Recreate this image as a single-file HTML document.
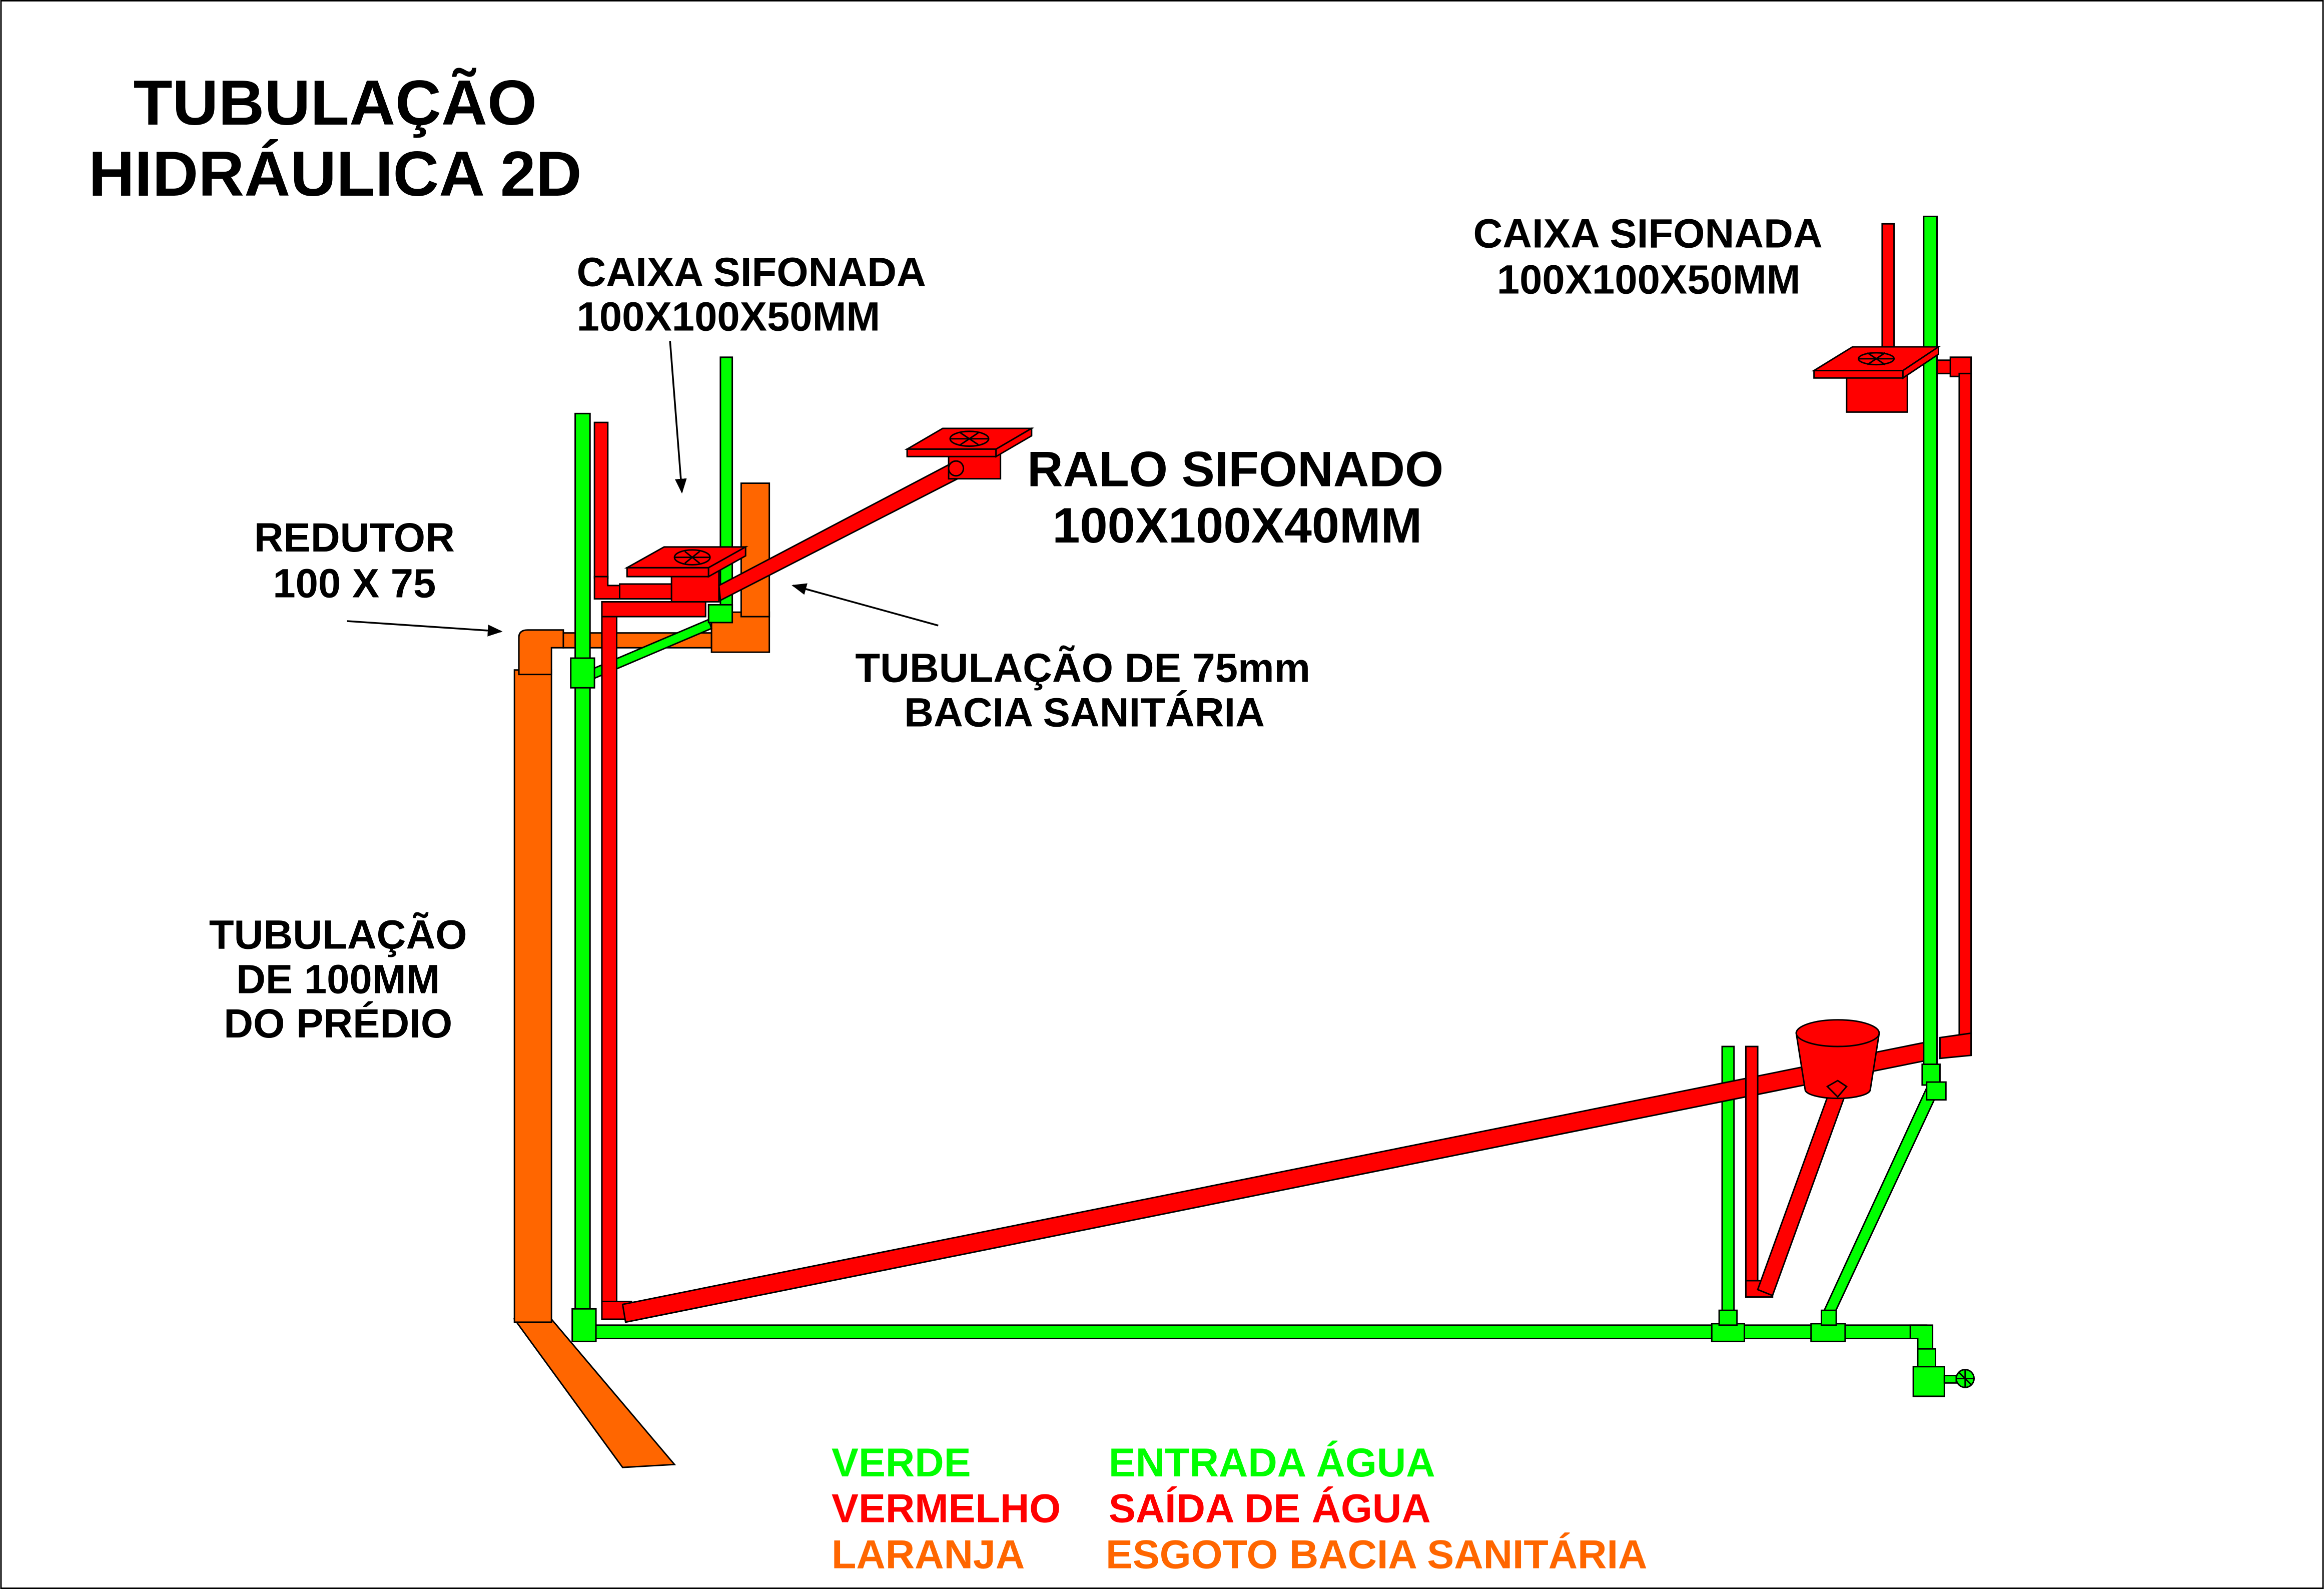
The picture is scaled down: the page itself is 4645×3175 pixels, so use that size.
<!DOCTYPE html>
<html><head><meta charset="utf-8"><style>
html,body{margin:0;padding:0;background:#fff}
svg{display:block}
text{font-family:"Liberation Sans",sans-serif;font-weight:bold}
</style></head><body>
<svg width="4645" height="3175" viewBox="0 0 1568 1072" xmlns="http://www.w3.org/2000/svg">
<defs><marker id="ah" markerWidth="10" markerHeight="10" refX="9" refY="5" orient="auto" markerUnits="userSpaceOnUse"><path d="M0,1 L10,5 L0,9 Z" fill="#000"/></marker></defs>
<rect x="0.5" y="0.5" width="1567" height="1071" fill="#fff" stroke="#000" stroke-width="1"/>
<g stroke="#000" stroke-width="1">
<polygon points="347,890 372,890 455,988 420,990" fill="#ff6600"/>
<rect x="347" y="452" width="25" height="440" fill="#ff6600"/>
<path d="M350,455 L350,430 Q350,425 356,425 L380,425 L380,437 L372,437 L372,455 Z" fill="#ff6600"/>
<rect x="380" y="427" width="100" height="10" fill="#ff6600"/>
<rect x="480" y="413" width="39" height="27" fill="#ff6600"/>
<rect x="500" y="326" width="19" height="90" fill="#ff6600"/>
<rect x="388" y="279" width="10" height="620" fill="#00ff00"/>
<rect x="486" y="241" width="8" height="170" fill="#00ff00"/>
<polygon points="398,452 478,418 480,424 400,458" fill="#00ff00"/>
<rect x="385" y="444" width="16" height="20" fill="#00ff00"/>
<rect x="478" y="408" width="16" height="12" fill="#00ff00"/>
<rect x="395" y="894" width="905" height="9" fill="#00ff00"/>
<rect x="386" y="883" width="16" height="22" fill="#00ff00"/>
<rect x="1162" y="706" width="8" height="190" fill="#00ff00"/>
<rect x="1155" y="893" width="22" height="12" fill="#00ff00"/>
<rect x="1160" y="884" width="12" height="10" fill="#00ff00"/>
<polygon points="1230,886 1300,734 1307,738 1236,890" fill="#00ff00"/>
<rect x="1222" y="893" width="23" height="12" fill="#00ff00"/>
<rect x="1229" y="884" width="10" height="10" fill="#00ff00"/>
<path d="M1289,894 L1304,894 L1304,912 L1294,912 L1294,903 L1289,903 Z" fill="#00ff00"/>
<rect x="1294" y="910" width="12" height="13" fill="#00ff00"/>
<rect x="1291" y="922" width="21" height="20" fill="#00ff00"/>
<rect x="1312" y="928" width="8" height="5" fill="#00ff00"/>
<ellipse cx="1326" cy="930" rx="6" ry="6" fill="#00ff00"/>
<path d="M1326,924 L1326,936 M1320,930 L1332,930 M1322,926 L1330,934" fill="none"/>
<rect x="401" y="285" width="9" height="105" fill="#ff0000"/>
<path d="M401,389 L410,389 L410,395 L420,395 L420,404 L401,404 Z" fill="#ff0000"/>
<rect x="418" y="394" width="48" height="10" fill="#ff0000"/>
<rect x="406" y="408" width="10" height="475" fill="#ff0000"/>
<rect x="406" y="406" width="70" height="10" fill="#ff0000"/>
<rect x="406" y="878" width="20" height="12" fill="#ff0000"/>
<polygon points="420,880 1300,703 1302,715 422,892" fill="#ff0000"/>
<rect x="453" y="380" width="32" height="26" fill="#ff0000"/>
<polygon points="485,395 643,312 648,322 486,405" fill="#ff0000"/>
<polygon points="423,383 448,369 503,369 478,383" fill="#ff0000"/>
<polygon points="423,383 478,383 478,389 423,389" fill="#ff0000"/>
<polygon points="478,383 503,369 503,375 478,389" fill="#ff0000"/>
<ellipse cx="467" cy="376" rx="12" ry="5" fill="none"/>
<path d="M455,376 L479,376 M462,372 L472,380 M472,372 L462,380" fill="none"/>
<rect x="640" y="300" width="35" height="23" fill="#ff0000"/>
<polygon points="612,303 636,289 696,289 672,303" fill="#ff0000"/>
<polygon points="612,303 672,303 672,308 612,308" fill="#ff0000"/>
<polygon points="672,303 696,289 696,294 672,308" fill="#ff0000"/>
<ellipse cx="654" cy="296" rx="13" ry="5" fill="none"/>
<path d="M641,296 L667,296 M648,292 L660,300 M660,292 L648,300" fill="none"/>
<circle cx="645" cy="316" r="5" fill="#ff0000"/>
<rect x="1298" y="146" width="9" height="574" fill="#00ff00"/>
<rect x="1297" y="718" width="12" height="14" fill="#00ff00"/>
<rect x="1300" y="730" width="13" height="12" fill="#00ff00"/>
<rect x="1270" y="151" width="8" height="87" fill="#ff0000"/>
<rect x="1246" y="248" width="41" height="30" fill="#ff0000"/>
<polygon points="1224,250 1250,234 1308,234 1284,250" fill="#ff0000"/>
<polygon points="1224,250 1284,250 1284,255 1224,255" fill="#ff0000"/>
<polygon points="1284,250 1308,234 1308,239 1284,255" fill="#ff0000"/>
<ellipse cx="1266" cy="242" rx="12" ry="4" fill="none"/>
<path d="M1254,242 L1278,242 M1260,238 L1272,246 M1272,238 L1260,246" fill="none"/>
<rect x="1307" y="243" width="16" height="9" fill="#ff0000"/>
<path d="M1316,241 L1330,241 L1330,254 L1316,254 Z" fill="#ff0000"/>
<rect x="1322" y="252" width="8" height="446" fill="#ff0000"/>
<path d="M1309,700 L1330,697 L1330,712 L1309,714 Z" fill="#ff0000"/>
<rect x="1178" y="706" width="8" height="162" fill="#ff0000"/>
<rect x="1178" y="864" width="18" height="11" fill="#ff0000"/>
<polygon points="1186,870 1236,732 1246,736 1196,874" fill="#ff0000"/>
<path d="M1212,697 L1268,697 L1262,735 A22,6 0 0 1 1218,735 Z" fill="#ff0000"/>
<ellipse cx="1240" cy="697" rx="28" ry="9" fill="#ff0000"/>
<polygon points="1233,733 1240,729 1246,733 1240,740" fill="#ff0000"/>
</g>
<g stroke="#000" stroke-width="1.2" fill="none">
<line x1="452" y1="230" x2="460" y2="332" marker-end="url(#ah)"/>
<line x1="234" y1="419" x2="338" y2="426" marker-end="url(#ah)"/>
<line x1="633" y1="422" x2="535" y2="395" marker-end="url(#ah)"/>
</g>
<text x="226" y="84" font-size="43" text-anchor="middle">TUBULAÇÃO</text>
<text x="226" y="132" font-size="43" text-anchor="middle">HIDRÁULICA 2D</text>
<text x="389" y="193" font-size="27.5">CAIXA SIFONADA</text>
<text x="389" y="223" font-size="27.5">100X100X50MM</text>
<text x="239" y="372" font-size="27.5" text-anchor="middle">REDUTOR</text>
<text x="239" y="403" font-size="27.5" text-anchor="middle">100 X 75</text>
<text x="693" y="328" font-size="33.5">RALO SIFONADO</text>
<text x="710" y="366" font-size="33.5">100X100X40MM</text>
<text x="577" y="460" font-size="27.5">TUBULAÇÃO DE 75mm</text>
<text x="610" y="490" font-size="27.5">BACIA SANITÁRIA</text>
<text x="228" y="640" font-size="27.5" text-anchor="middle">TUBULAÇÃO</text>
<text x="228" y="670" font-size="27.5" text-anchor="middle">DE 100MM</text>
<text x="228" y="700" font-size="27.5" text-anchor="middle">DO PRÉDIO</text>
<text x="994" y="167" font-size="27.5">CAIXA SIFONADA</text>
<text x="1010" y="198" font-size="27.5">100X100X50MM</text>
<text x="561" y="996" font-size="27.3" fill="#00ff00">VERDE</text>
<text x="748" y="996" font-size="27.3" fill="#00ff00">ENTRADA ÁGUA</text>
<text x="561" y="1027" font-size="27.3" fill="#ff0000">VERMELHO</text>
<text x="748" y="1027" font-size="27.3" fill="#ff0000">SAÍDA DE ÁGUA</text>
<text x="561" y="1058" font-size="27.3" fill="#ff6600">LARANJA</text>
<text x="746" y="1058" font-size="27.3" fill="#ff6600">ESGOTO BACIA SANITÁRIA</text>
</svg>
</body></html>
